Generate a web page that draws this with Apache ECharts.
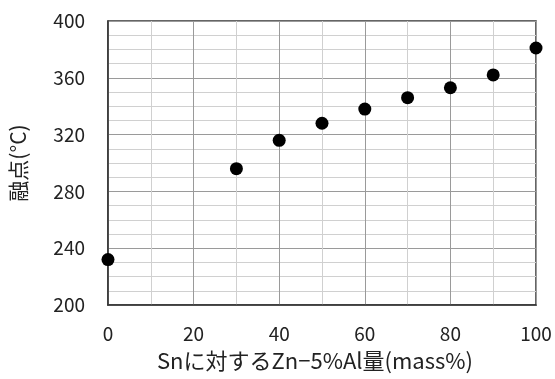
<!DOCTYPE html>
<html>
<head>
<meta charset="utf-8">
<script src="https://cdn.jsdelivr.net/npm/echarts@6/dist/echarts.min.js"></script>
<style>
  html, body { margin: 0; padding: 0; background: #fff; }
  #chart { width: 555px; height: 379px; }
</style>
</head>
<body>
<div id="chart"></div>
<script>
// Zn-5%Al content in Sn (mass%) and the measured melting point (°C)
const alloyContent = [0, 30, 40, 50, 60, 70, 80, 90, 100];
const meltingPoint = [232, 296, 316, 328, 338, 346, 353, 362, 381];

const xTickLabels = [0, 20, 40, 60, 80, 100];
const yTickLabels = [200, 240, 280, 320, 360, 400];

const FONT = '"Noto Sans CJK JP", "Noto Sans", sans-serif';

const points = alloyContent.map((x, i) => [x, meltingPoint[i]]);

// Grid lines every 10 units; only the labelled values get a darker line and text
const MAJOR = '#9a9a9a';
const MINOR = '#d0d0d0';

const chart = echarts.init(document.getElementById('chart'), null, { renderer: 'canvas' });

chart.setOption({
  animation: false,
  backgroundColor: '#fff',
  grid: {
    left: 106, right: 19, top: 21, bottom: 74,
    show: true,
    borderColor: '#333',
    borderWidth: 1.5,
    backgroundColor: 'transparent'
  },
  xAxis: {
    type: 'value',
    min: xTickLabels[0],
    max: xTickLabels[xTickLabels.length - 1],
    interval: 10,
    name: 'Snに対するZn−5%Al量(mass%)',
    nameLocation: 'middle',
    nameGap: 45,
    nameTextStyle: { fontFamily: FONT, fontSize: 22, color: '#222', padding: [0, 14, 0, 0] },
    axisLine: { show: true, lineStyle: { color: '#333', width: 1.5 } },
    axisTick: { show: false },
    axisLabel: {
      fontFamily: FONT, fontSize: 19, color: '#222', margin: 19,
      formatter: v => (xTickLabels.indexOf(v) >= 0 ? String(v) : '')
    },
    splitLine: { show: true, lineStyle: { color: [MAJOR, MINOR], width: 1 } }
  },
  yAxis: {
    type: 'value',
    min: yTickLabels[0],
    max: yTickLabels[yTickLabels.length - 1],
    interval: 10,
    name: '融点(°C)',
    nameLocation: 'middle',
    nameGap: 79,
    nameRotate: 90,
    nameTextStyle: { fontFamily: FONT, fontSize: 21, color: '#222' },
    axisLine: { show: true, lineStyle: { color: '#333', width: 1.5 } },
    axisTick: { show: false },
    axisLabel: {
      fontFamily: FONT, fontSize: 19, color: '#222', margin: 23,
      formatter: v => (yTickLabels.indexOf(v) >= 0 ? String(v) : '')
    },
    splitLine: { show: true, lineStyle: { color: [MAJOR, MINOR, MINOR, MINOR], width: 1 } }
  },
  series: [{
    type: 'scatter',
    data: points,
    symbol: 'circle',
    symbolSize: 13,
    itemStyle: { color: '#000', opacity: 1 },
    clip: false,
    z: 5
  }]
});
</script>
</body>
</html>
